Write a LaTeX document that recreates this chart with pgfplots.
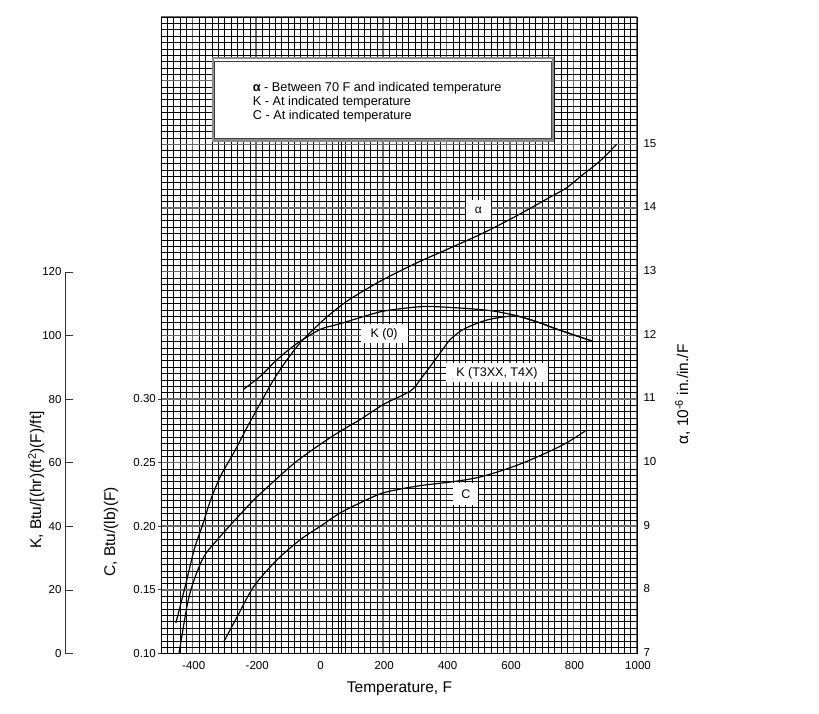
\documentclass[border=0pt]{standalone}
\usepackage{pgfplots}
\pgfplotsset{compat=1.18}
\usepackage{fontspec}
\setmainfont{Liberation Sans}
\definecolor{majgrid}{gray}{0.42}
\newcommand{\ticksize}{\fontsize{11.5}{13}\selectfont}
\newcommand{\labsize}{\fontsize{15.5}{18}\selectfont}
\begin{document}
\begin{tikzpicture}
\path[use as bounding box] (0pt,0pt) rectangle (819pt,713pt);
\pgfplotsset{
  common/.style={
    at={(161pt,59.5pt)}, anchor=south west,
    width=476pt, height=636.5pt, scale only axis,
    xmin=-500, xmax=1000,
  },
  curve/.style={black, line width=1.2pt, smooth, tension=0.5, no marks},
}
% ---------- main axis: grid, alpha scale (right), temperature ----------
\begin{axis}[common, ymin=7, ymax=17,
  xtick={-400,-200,...,1000},
  xticklabels={-400,-200,0,200,400,600,800,1000},
  ytick={7,8,...,17},
  yticklabels={7,8,9,10,11,12,13,14,15,{},{}},
  minor xtick={-500,-480,...,1000},
  minor ytick={7,7.1,...,17},
  grid=both,
  minor grid style={black, line width=0.5pt},
  major grid style={majgrid, line width=1.5pt},
  axis line style={black, line width=0.8pt},
  major tick length=0pt, minor tick length=0pt,
  xtick pos=bottom, ytick pos=right, yticklabel pos=right,
  tick label style={font=\ticksize},
  x tick label style={yshift=-4pt, xshift=1pt},
  y tick label style={xshift=3pt, yshift=1pt},
  xlabel={Temperature, F},
  ylabel={α, 10\textsuperscript{-6} in./in./F},
  every axis x label/.style={at={(axis description cs:0.501,-0.0558)}, anchor=center, font=\labsize},
  every axis y label/.style={at={(axis description cs:1.096,0.407)}, anchor=center, rotate=90, font=\labsize},
]
% alpha, 10^-6 in./in./F
\addplot[curve] coordinates {
(-453,7.48) (-421,8.11) (-395,8.64) (-369,9.02) (-343,9.42) (-311,9.80)
(-270,10.16) (-227,10.57) (-186,10.94) (-144,11.31) (-102,11.62) (-60,11.89)
(3,12.20) (45,12.38) (87,12.54) (129,12.67) (202,12.88) (307,13.14)
(402,13.35) (517,13.61) (622,13.88) (726,14.17) (779,14.32) (831,14.53)
(884,14.74) (936,15.00)
};
\draw[black, line width=0.9pt] (axis cs:70,7) -- (axis cs:70,15.06);
\end{axis}
% ---------- C axis (left) ----------
\begin{axis}[common, ymin=0.10, ymax=0.60,
  hide x axis, axis y line*=left,
  axis line style={black, line width=0.8pt},
  ytick={0.10,0.15,0.20,0.25,0.30},
  yticklabels={0.10,0.15,0.20,0.25,0.30},
  tick align=outside, major tick length=3.5pt,
  tick style={black!75, line width=0.8pt},
  tick label style={font=\ticksize, inner xsep=1.5pt},
  ylabel={C, Btu/(lb)(F)},
  every axis y label/.style={at={(axis description cs:-0.105,0.191)}, anchor=center, rotate=90, font=\labsize},
]
\addplot[curve] coordinates {
(-301,0.1097) (-259,0.1293) (-207,0.1529) (-133,0.1739) (-60,0.1896)
(3,0.2001) (66,0.2106) (129,0.2185) (202,0.2263) (307,0.2315) (412,0.2347)
(496,0.2381) (569,0.2433) (643,0.2499) (726,0.2590) (779,0.2656) (837,0.2748)
};
\end{axis}
% ---------- K curves, labels, legend box ----------
\begin{axis}[common, ymin=0, ymax=200, hide axis]
% K (O)
\addplot[curve] coordinates {
(-240,83.0) (-186,87.2) (-144,91.4) (-102,95.1) (-60,98.2) (3,101.9)
(45,103.1) (87,104.3) (129,105.6) (202,107.6) (307,108.9) (359,109.0)
(465,108.4) (548,107.6) (622,106.1) (685,104.2) (748,101.9) (810,99.8) (858,98.2)
};
% K (T3XX, T4X)
\addplot[curve] coordinates {
(-443,0.2) (-416,15.9) (-395,23.3) (-364,30.6) (-322,35.8) (-270,41.6)
(-207,48.3) (-140,54.5) (-75,60.2) (3,65.8) (66,69.9) (129,73.6) (202,78.3)
(286,82.5) (318,86.2) (349,90.3) (381,94.6) (412,98.7) (454,101.9)
(517,104.5) (569,105.6) (622,106.0) (685,104.2) (748,101.9) (810,99.8) (858,98.2)
};
% curve labels
\node[fill=white, inner sep=0pt, minimum width=25pt, minimum height=20pt, font=\fontsize{12}{14}\selectfont] at (axis cs:500,139.4) {α};
\node[fill=white, inner xsep=10pt, minimum height=19pt, font=\fontsize{12.5}{14}\selectfont] at (axis cs:203,100.4) {K (0)};
\node[fill=white, inner xsep=10pt, minimum height=19pt, font=\fontsize{12.5}{14}\selectfont] at (axis cs:558.6,88.2) {K (T3XX, T4X)};
\node[fill=white, inner xsep=8pt, minimum height=22pt, font=\fontsize{12.5}{14}\selectfont] at (axis cs:461,50.2) {C};
% legend box
\draw[draw=black!45, line width=2.2pt, fill=white] (axis cs:-337,161.2) rectangle (axis cs:735,187);
\draw[draw=black!75, line width=0.6pt] (axis cs:-333,162.0) rectangle (axis cs:731,186.2);
\node[anchor=west, align=left, inner sep=0pt, font=\fontsize{12.7}{13.7}\selectfont] at (axis cs:-211,173.2)
{\textbf{α} - Between 70 F and indicated temperature\\K - At indicated temperature\\C - At indicated temperature};
\end{axis}
% ---------- K scale (far left) ----------
\begin{axis}[at={(65pt,59.5pt)}, anchor=south west,
  width=10pt, height=381.5pt, scale only axis,
  xmin=0, xmax=1, ymin=0, ymax=120,
  hide x axis, axis y line*=left,
  ytick={0,20,...,120}, yticklabels={0,20,40,60,80,100,120},
  tick align=inside, major tick length=8pt,
  axis line style={black!80, line width=0.8pt},
  tick style={black!80, line width=0.8pt},
  tick label style={font=\ticksize},
  ylabel={K, Btu/[(hr)(ft\textsuperscript{2})(F)/ft]},
  every axis y label/.style={at={(axis description cs:-2.86,0.455)}, anchor=center, rotate=90, font=\labsize},
]
\end{axis}
\end{tikzpicture}
\end{document}
